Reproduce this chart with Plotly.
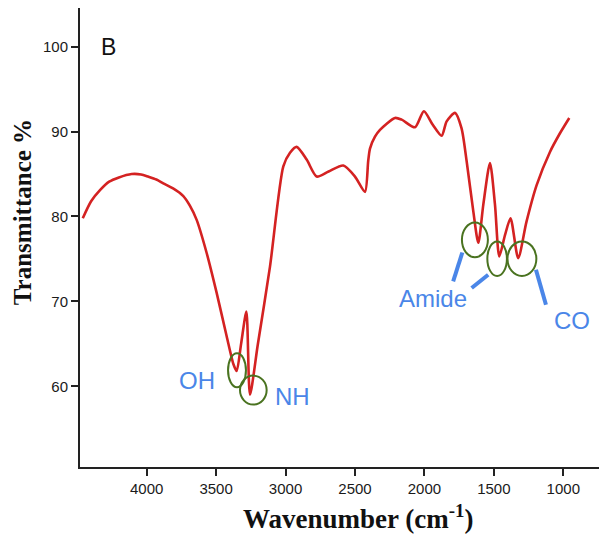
import plotly.graph_objects as go

# FTIR spectrum
wavenumber = [4460, 4400, 4336, 4270, 4200, 4108, 4040, 3990, 3930, 3880, 3810, 3736, 3690, 3640,
              3568, 3496, 3424, 3375, 3352,
              3320, 3282, 3256, 3200, 3112, 3016, 2968, 2920, 2848, 2776, 2690, 2584,
              2500, 2428, 2405, 2392, 2356, 2320, 2212, 2164, 2068, 2004, 1940, 1876,
              1840, 1780, 1733, 1696, 1648, 1612, 1576, 1528, 1492, 1461, 1420, 1380,
              1325, 1265, 1192, 1096, 1024, 957]
transmittance = [79.8, 81.8, 83.1, 84.1, 84.6, 85.0, 84.95, 84.7, 84.35, 83.9, 83.3, 82.4, 81.3, 79.6,
                 75.7, 71.0, 65.9, 62.6, 61.8,
                 65.0, 68.8, 59.0, 64.9, 74.1, 85.9, 87.5, 88.2, 86.7, 84.7, 85.3, 86.0,
                 84.7, 82.9, 86.5, 88.0, 89.4, 90.2, 91.6, 91.4, 90.5, 92.4, 90.8, 89.5,
                 91.2, 92.2, 90.4, 86.5, 80.6, 76.9, 81.4, 86.3, 81.4, 75.3, 77.8, 79.8,
                 75.1, 79.4, 83.7, 87.6, 89.8, 91.6]

x_ticks = [4000, 3500, 3000, 2500, 2000, 1500, 1000]
y_ticks = [60, 70, 80, 90, 100]

# peak labels
peak_labels = ["OH", "NH", "Amide", "CO"]
label_wn = [3640, 2947, 1939, 935]
label_t = [60.67, 58.8, 70.4, 67.7]

RED = "#d42222"
GREEN = "#4a7320"
BLUE = "#4a86e8"

fig = go.Figure()
fig.add_trace(go.Scatter(x=wavenumber, y=transmittance, mode="lines",
                         line=dict(color=RED, width=2.6, shape="spline", smoothing=0.7),
                         showlegend=False, hoverinfo="skip"))

shapes = []
# ellipses (wn0, wn1, T0, T1)
ellipses = [(3414, 3285, 63.9, 59.9), (3328, 3136, 61.26, 57.85),
            (1730, 1543, 79.3, 75.2), (1547, 1406, 77.06, 73.0), (1402, 1194, 77.06, 73.0)]
for a, b, c, d in ellipses:
    shapes.append(dict(type="circle", xref="x", yref="y", x0=a, x1=b, y0=c, y1=d,
                       line=dict(color=GREEN, width=2)))
pointers = [(1727, 75.76, 1793, 72.35), (1660, 71.58, 1541, 73.14), (1197, 73.73, 1125, 69.6)]
for a, b, c, d in pointers:
    shapes.append(dict(type="line", xref="x", yref="y", x0=a, y0=b, x1=c, y1=d,
                       line=dict(color=BLUE, width=4)))

annotations = []
for t, xw, yt in zip(peak_labels, label_wn, label_t):
    annotations.append(dict(x=xw, y=yt, xref="x", yref="y", text=t, showarrow=False,
                            font=dict(family="Liberation Sans, Arial", size=24, color=BLUE)))
annotations.append(dict(x=4278, y=100, xref="x", yref="y", text="B", showarrow=False,
                        font=dict(family="Liberation Sans, Arial", size=23, color="#111")))
annotations.append(dict(x=-0.1118, y=0.555, xref="paper", yref="paper", text="<b>Transmittance %</b>",
                        textangle=-90, showarrow=False, xanchor="center", yanchor="middle",
                        font=dict(family="Liberation Serif, Times New Roman", size=25, color="#111")))
annotations.append(dict(x=0.5356, y=-0.108, xref="paper", yref="paper",
                        text="<b>Wavenumber (cm<sup>-1</sup>)</b>", showarrow=False,
                        xanchor="center", yanchor="middle",
                        font=dict(family="Liberation Serif, Times New Roman", size=27, color="#111")))

fig.update_layout(
    width=599, height=537,
    margin=dict(l=80, r=0, t=8, b=70),
    paper_bgcolor="white", plot_bgcolor="white",
    shapes=shapes, annotations=annotations,
    xaxis=dict(range=[4480, 743], tickvals=x_ticks, ticks="outside", ticklen=7, tickwidth=1.5,
               tickcolor="#222", showline=True, linecolor="#222", linewidth=2, showgrid=False,
               zeroline=False, tickfont=dict(family="Liberation Sans, Arial", size=15, color="#1a1a1a")),
    yaxis=dict(range=[50.5, 104.55], tickvals=y_ticks, ticks="outside", ticklen=7, tickwidth=1.5,
               tickcolor="#222", showline=True, linecolor="#222", linewidth=2, showgrid=False,
               zeroline=False, tickfont=dict(family="Liberation Sans, Arial", size=15, color="#1a1a1a")),
)

fig.write_html("out.html")
